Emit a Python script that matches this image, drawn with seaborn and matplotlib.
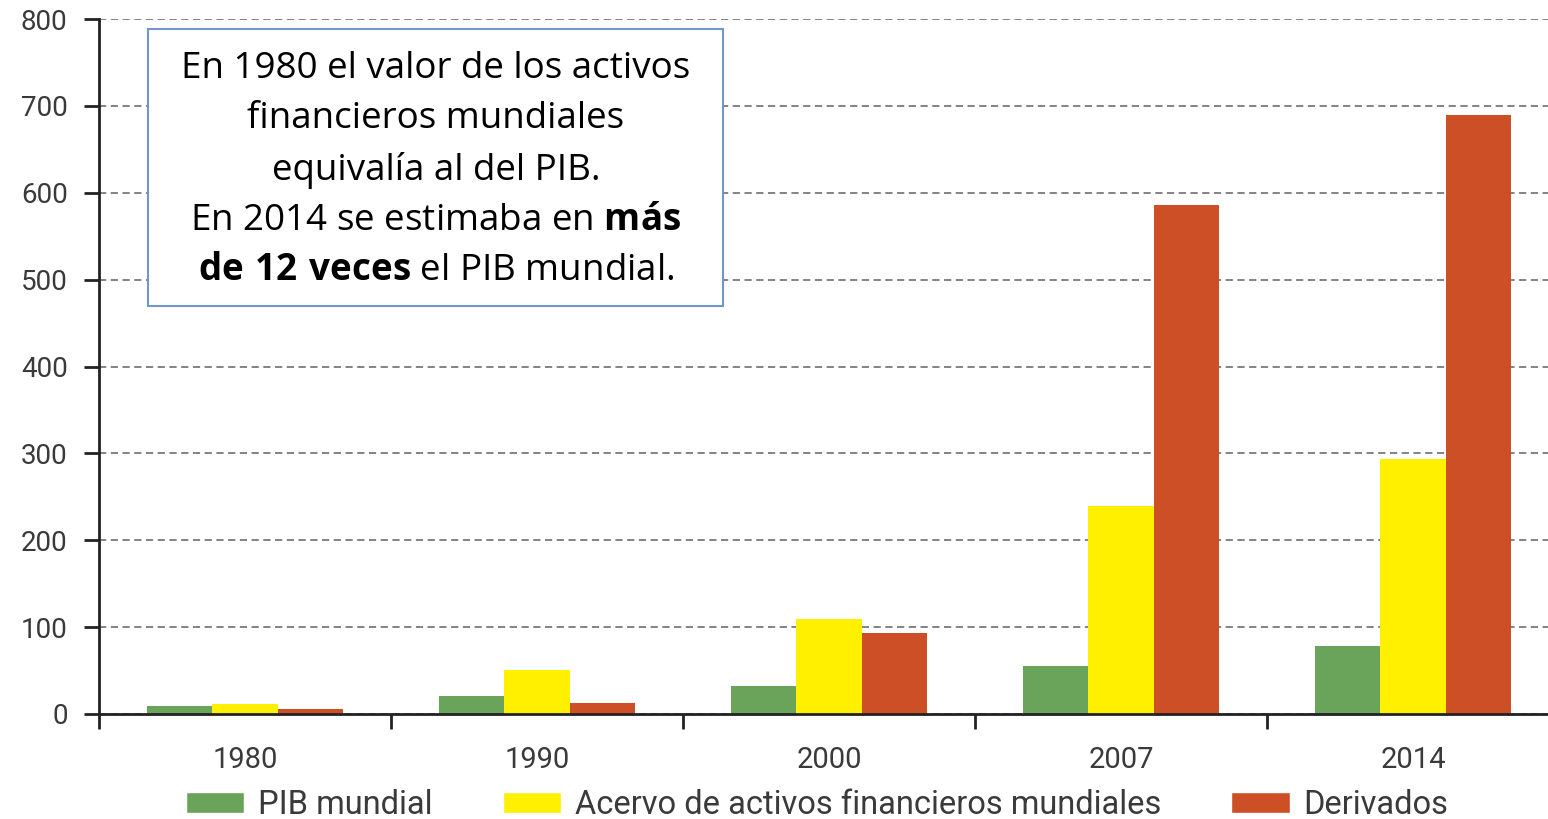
import numpy as np
import pandas as pd
import matplotlib
matplotlib.use('Agg')
import matplotlib.pyplot as plt
import matplotlib.patches as mpatches
import seaborn as sns

# Data
years = ['1980', '1990', '2000', '2007', '2014']
pib = [9, 21, 32, 55, 78]
acervo = [12, 51, 109, 239, 293]
derivados = [6, 13, 93, 586, 690]
series_names = ['PIB mundial', 'Acervo de activos financieros mundiales', 'Derivados']
colors = ['#6aa35a', '#fff000', '#cd4f25']

df = pd.DataFrame({'year': years * 3,
                   'value': pib + acervo + derivados,
                   'serie': [s for s in series_names for _ in years]})

sns.set_style('white')
plt.rcParams['font.family'] = ['Roboto', 'DejaVu Sans']
plt.rcParams['mathtext.fontset'] = 'custom'
plt.rcParams['mathtext.rm'] = 'Open Sans'
plt.rcParams['mathtext.bf'] = 'Open Sans:bold'

fig = plt.figure(figsize=(15.48, 8.19), dpi=100)
ax = fig.add_axes([99 / 1548, 105 / 819, 1460 / 1548, 695 / 819])

sns.barplot(data=df, x='year', y='value', hue='serie', palette=colors,
            width=0.67, gap=0, saturation=1, linewidth=0, legend=False, ax=ax)

ax.set_xlim(-0.5, 4.5)
ax.set_ylim(0, 800)
ax.set_yticks(range(0, 801, 100))
ax.yaxis.grid(True, linestyle=(0, (4, 2.5)), color='#7a7a7a', linewidth=1.3)
ax.set_axisbelow(True)

for side in ['top', 'right']:
    ax.spines[side].set_visible(False)
for side in ['left', 'bottom']:
    ax.spines[side].set_color('#222222')
    ax.spines[side].set_linewidth(2)

ax.set_xticks(np.arange(-0.5, 4.6, 1.0), minor=True)
ax.tick_params(axis='x', which='minor', bottom=True, length=11, width=2,
               color='#222222', direction='out')
ax.tick_params(axis='x', which='major', bottom=False, length=0, pad=23,
               labelsize=21, labelcolor='#3a3a3a')
ax.tick_params(axis='y', left=True, length=11, width=2, color='#222222', direction='out',
               pad=11.5, labelsize=20, labelcolor='#3a3a3a')
ax.set_xlabel('')
ax.set_ylabel('')

handles = [mpatches.Patch(facecolor=c, label=n) for c, n in zip(colors, series_names)]
ax.legend(handles=handles, loc='center', bbox_to_anchor=(0.492, -0.131), ncol=3,
          frameon=False, fontsize=23.5, labelcolor='#3a3a3a', handlelength=1.78,
          handleheight=0.61, handletextpad=0.43, columnspacing=2.15)

# annotation box
box_text = ('En 1980 el valor de los activos\nfinancieros mundiales\nequivalía al del PIB.\n'
            'En 2014 se estimaba en $\\bf{más}$\n$\\bf{de\\ 12\\ veces}$ el PIB mundial.')
fig.text(436 / 1548, 1 - 170 / 819, box_text, ha='center', va='center', fontsize=26.5,
         family=['Open Sans', 'DejaVu Sans'], linespacing=1.53, color='black')
fig.patches.append(mpatches.Rectangle((148 / 1548, 1 - 306 / 819), 575 / 1548, 277 / 819,
                                      transform=fig.transFigure, facecolor='white',
                                      edgecolor='#6f97c9', linewidth=1.5, zorder=0))

fig.savefig('out.png', dpi=100)
